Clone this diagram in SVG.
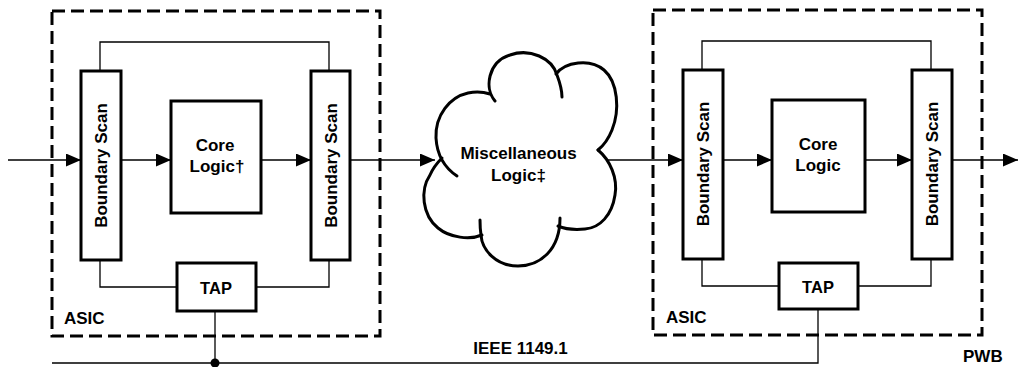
<svg xmlns="http://www.w3.org/2000/svg" width="1018" height="367" viewBox="0 0 1018 367">
<style>
.bg{fill:#fff}
.box{fill:#fff;stroke:#000;stroke-width:3}
.dash{fill:none;stroke:#000;stroke-width:3;stroke-dasharray:13 6}
.thin{fill:none;stroke:#000;stroke-width:1.3}
.lobe{fill:none;stroke:#000;stroke-width:3;stroke-linecap:round}
.lbl{font-family:"Liberation Sans",Arial,sans-serif;font-weight:bold;font-size:17px;fill:#000}
.c{text-anchor:middle}
.tap{font-size:16.5px}
</style>
<defs>
<marker id="arr" markerUnits="userSpaceOnUse" markerWidth="16" markerHeight="14" refX="15" refY="6.5" orient="auto">
<path d="M0,0 L15,6.5 L0,13 Z" fill="#000"/>
</marker>
</defs>
<rect class="bg" x="0" y="0" width="1018" height="367"/>

<g id="asic-left">
<rect class="dash" x="52" y="11" width="328" height="325"/>
<text class="lbl" x="64" y="324">ASIC</text>
</g>
<g id="asic-right">
<rect class="dash" x="653" y="10" width="329" height="325"/>
<text class="lbl" x="666" y="323">ASIC</text>
</g>

<g id="connectors">
<path class="thin" d="M100,71 V42 H329 V71"/>
<path class="thin" d="M100,260 V287 H177"/>
<path class="thin" d="M256,287 H329 V260"/>
<path class="thin" d="M702,70 V41 H931 V70"/>
<path class="thin" d="M702,259 V286 H779"/>
<path class="thin" d="M858,286 H931 V259"/>
<line class="thin" x1="8" y1="160" x2="81" y2="160" marker-end="url(#arr)"/>
<line class="thin" x1="121" y1="160" x2="171" y2="160" marker-end="url(#arr)"/>
<line class="thin" x1="261" y1="160" x2="311" y2="160" marker-end="url(#arr)"/>
<line class="thin" x1="350" y1="160" x2="435" y2="160" marker-end="url(#arr)"/>
<line class="thin" x1="608" y1="160" x2="683" y2="160" marker-end="url(#arr)"/>
<line class="thin" x1="723" y1="160" x2="772" y2="160" marker-end="url(#arr)"/>
<line class="thin" x1="865" y1="160" x2="912" y2="160" marker-end="url(#arr)"/>
<line class="thin" x1="952" y1="160" x2="1018" y2="160" marker-end="url(#arr)"/>
<path class="thin" d="M52,363 H818 V309"/>
<line class="thin" x1="215" y1="311" x2="215" y2="363"/>
<circle cx="215" cy="363" r="4.5" fill="#000"/>
</g>

<g id="bscan-l1">
<rect class="box" x="81" y="71" width="40" height="189"/>
<text class="lbl c" x="107" y="165.5" transform="rotate(-90 107 165.5)">Boundary Scan</text>
</g>
<g id="core-l">
<rect class="box" x="171" y="101" width="90" height="112"/>
<text class="lbl c" x="215" y="151">Core</text>
<text class="lbl c" x="217" y="172">Logic†</text>
</g>
<g id="bscan-l2">
<rect class="box" x="311" y="71" width="39" height="189"/>
<text class="lbl c" x="336.5" y="165.5" transform="rotate(-90 336.5 165.5)">Boundary Scan</text>
</g>
<g id="tap-l">
<rect class="box" x="177" y="263" width="79" height="48"/>
<text class="lbl tap c" x="216" y="294">TAP</text>
</g>

<g id="cloud">
<path class="lobe" d="M495,101 C484,88 488,62 510,55 C530,48 552,58 557,75 C560,83 562,90 562,97"/>
<path class="lobe" d="M556,74 C565,62 590,58 604,70 C618,82 620,110 612,130 C608,140 603,146 598,150"/>
<path class="lobe" d="M598,150 C610,160 618,178 615,195 C612,215 600,228 585,229 C575,230 565,229 558,226"/>
<path class="lobe" d="M560,218 C560,250 540,266 518,266 C496,266 482,250 481,235 C480,228 480,224 480,220"/>
<path class="lobe" d="M482,235 C470,240 450,238 438,228 C422,215 420,190 430,175 C433,168 437,163 442,158"/>
<path class="lobe" d="M457,176 C445,168 437,155 436,138 C435,115 450,97 468,93 C477,91 484,92 490,94"/>
<text class="lbl c" x="518.5" y="159">Miscellaneous</text>
<text class="lbl c" x="518.5" y="181">Logic‡</text>
</g>

<g id="bscan-r1">
<rect class="box" x="683" y="70" width="40" height="189"/>
<text class="lbl c" x="709" y="164" transform="rotate(-90 709 164)">Boundary Scan</text>
</g>
<g id="core-r">
<rect class="box" x="772" y="100" width="93" height="112"/>
<text class="lbl c" x="818" y="150">Core</text>
<text class="lbl c" x="818" y="171">Logic</text>
</g>
<g id="bscan-r2">
<rect class="box" x="912" y="70" width="40" height="189"/>
<text class="lbl c" x="938" y="164" transform="rotate(-90 938 164)">Boundary Scan</text>
</g>
<g id="tap-r">
<rect class="box" x="779" y="263" width="79" height="46"/>
<text class="lbl tap c" x="818" y="293">TAP</text>
</g>

<g id="labels">
<text class="lbl c" x="520.5" y="354">IEEE 1149.1</text>
<text class="lbl" x="963" y="362">PWB</text>
</g>
</svg>
